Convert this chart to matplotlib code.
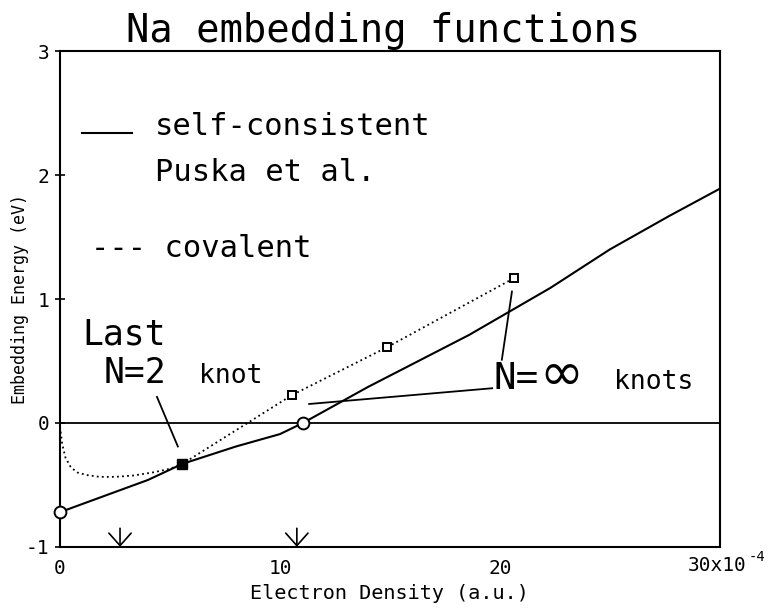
import numpy as np
import matplotlib
matplotlib.use("Agg")
import matplotlib.pyplot as plt

plt.rcParams['font.family'] = ['DejaVu Sans Mono', 'DejaVu Sans']

# electron density in units of 1e-4 a.u., energies in eV
sc_density = [0.0, 2.0, 4.0, 5.57, 8.0, 10.0, 11.05, 14.0, 18.6, 22.3, 25.0, 27.7, 30.0]
sc_energy = [-0.72, -0.59, -0.46, -0.33, -0.19, -0.09, 0.0, 0.29, 0.71, 1.09, 1.40, 1.67, 1.89]

cov_density = [0.0, 0.1, 0.25, 0.5, 0.8, 1.2, 1.8, 2.5, 3.3, 4.2, 5.0, 5.57,
               10.56, 14.86, 20.66]
cov_energy = [-0.03, -0.17, -0.28, -0.36, -0.40, -0.42, -0.435, -0.435, -0.425,
              -0.40, -0.37, -0.33, 0.226, 0.61, 1.17]

# knots
circle_knots_x = [0.0, 11.05]
circle_knots_y = [-0.72, 0.0]
square_knots_x = [10.56, 14.86, 20.66]
square_knots_y = [0.226, 0.61, 1.17]
last_knot_x = [5.57]
last_knot_y = [-0.33]

arrow_x = [2.73, 10.77]

fig = plt.figure(figsize=(7.69, 6.09), dpi=100)
ax = fig.add_axes([0.078, 0.102, 0.858, 0.814])

ax.axhline(0, color='black', lw=1.3, zorder=1)
ax.plot(sc_density, sc_energy, color='black', lw=1.5, zorder=2)
ax.plot(cov_density, cov_energy, color='black', lw=1.3, ls=(0, (1, 1.8)), zorder=2)

ax.plot(circle_knots_x, circle_knots_y, 'o', ms=8.5, mfc='white', mec='black',
        mew=1.4, clip_on=False, zorder=4)
ax.plot(square_knots_x, square_knots_y, 's', ms=6, mfc='white', mec='black',
        mew=1.4, zorder=4)
ax.plot(last_knot_x, last_knot_y, 's', ms=7.5, mfc='black', mec='black', zorder=4)

# leader lines for the annotations
ax.plot([4.41, 5.36], [0.21, -0.19], color='black', lw=1.3)
ax.plot([11.33, 19.65], [0.153, 0.28], color='black', lw=1.3)
ax.plot([20.09, 20.55], [0.51, 1.06], color='black', lw=1.3)

for xa in arrow_x:
    ax.annotate('', xy=(xa, -1.0), xytext=(xa, -0.85),
                arrowprops=dict(arrowstyle='->,head_length=0.45,head_width=0.4',
                                color='black', lw=1.2, mutation_scale=20,
                                shrinkA=0, shrinkB=0))

# legend drawn by hand
ax.plot([1.0, 3.27], [2.34, 2.34], color='black', lw=1.5)
ax.text(4.3, 2.32, 'self-consistent', fontsize=22, va='baseline')
ax.text(4.3, 1.95, 'Puska et al.', fontsize=22, va='baseline')
ax.text(1.4, 1.34, '--- covalent', fontsize=22, va='baseline')

ax.text(1.0, 0.63, 'Last', fontsize=25, va='baseline')
ax.text(2.0, 0.32, 'N=2', fontsize=25, va='baseline')
ax.text(6.3, 0.32, 'knot', fontsize=19, va='baseline')
ax.text(19.7, 0.27, 'N=', fontsize=27, va='baseline')
ax.text(21.8, 0.27, '∞', fontsize=38, va='baseline', family='DejaVu Sans')
ax.text(25.2, 0.27, 'knots', fontsize=19, va='baseline')

ax.set_xlim(0, 30)
ax.set_ylim(-1, 3)
ax.set_yticks([-1, 0, 1, 2, 3])
ax.set_yticklabels(['-1', '0', '1', '2', '3'])
ax.set_xticks([0, 10, 20, 30])
ax.set_xticklabels(['0', '10', '20', ''])
ax.tick_params(axis='y', direction='inout', length=7, width=1.2, pad=4, labelsize=14)
ax.tick_params(axis='x', length=0, pad=9, labelsize=14)
for s in ax.spines.values():
    s.set_linewidth(1.5)

ax.text(0.951, -0.019, '30x10', transform=ax.transAxes, fontsize=14, va='top')
ax.text(1.043, -0.006, '-4', transform=ax.transAxes, fontsize=10, va='top')

ax.set_xlabel('Electron Density (a.u.)', fontsize=14.5, va='center')
ax.xaxis.set_label_coords(0.5, -0.095)
ax.set_ylabel('Embedding Energy (eV)', fontsize=12, va='center')
ax.yaxis.set_label_coords(-0.061, 0.5)

fig.text(383 / 769, 1 - 42 / 609, 'Na embedding functions', fontsize=28,
         ha='center', va='baseline')

fig.savefig('out.png', dpi=100)
